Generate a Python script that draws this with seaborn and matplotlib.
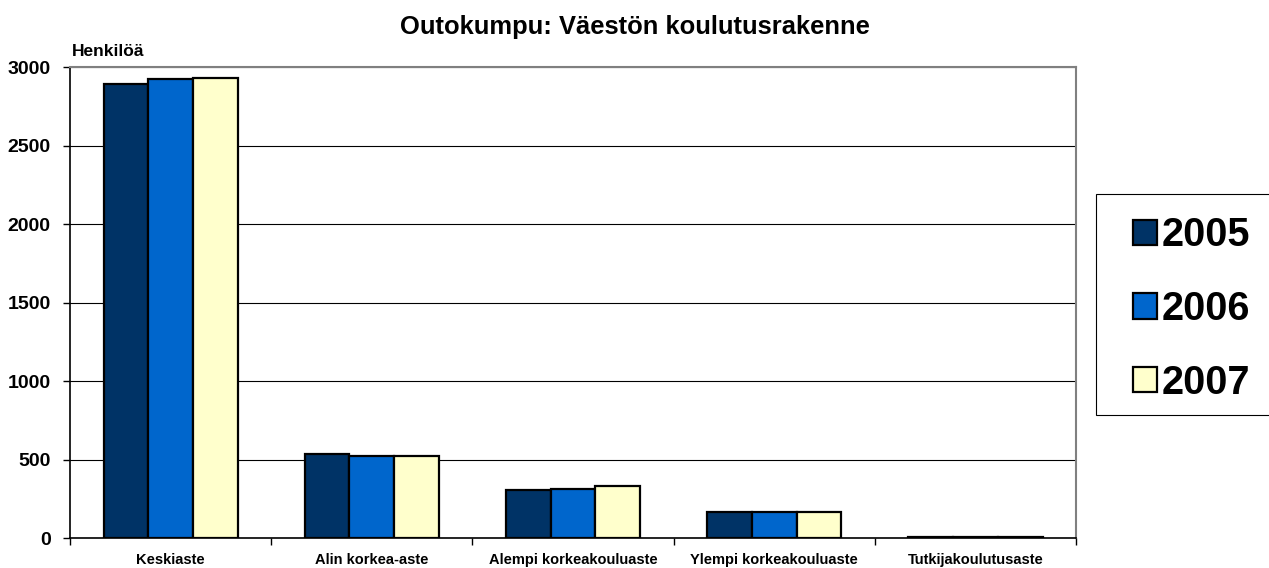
import pandas as pd
import matplotlib.pyplot as plt
import seaborn as sns
from matplotlib.patches import Rectangle

# Data
categories = ['Keskiaste', 'Alin korkea-aste', 'Alempi korkeakouluaste',
              'Ylempi korkeakouluaste', 'Tutkijakoulutusaste']
years = ['2005', '2006', '2007']
v2005 = [2892, 535, 306, 166, 6]
v2006 = [2924, 525, 309, 167, 6]
v2007 = [2930, 522, 331, 166, 6]
colors = ['#003366', '#0066CC', '#FFFFCC']

df = pd.DataFrame({
    'Koulutus': categories * 3,
    'Vuosi': [y for y in years for _ in categories],
    'Henkilöä': v2005 + v2006 + v2007,
})

sns.set_style('white')
plt.rcParams['font.family'] = ['Liberation Sans', 'DejaVu Sans']
plt.rcParams['text.color'] = 'black'
plt.rcParams['xtick.color'] = 'black'
plt.rcParams['ytick.color'] = 'black'

fig = plt.figure(figsize=(12.69, 5.68), dpi=100)
ax = fig.add_axes([0.0552, 0.0528, 0.7928, 0.8292])

sns.barplot(data=df, x='Koulutus', y='Henkilöä', hue='Vuosi', order=categories,
            hue_order=years, palette=colors, width=0.667, gap=0,
            edgecolor='black', linewidth=1.6, saturation=1, ax=ax)

ax.set_ylim(0, 3000)
ax.set_xlim(-0.5, len(categories) - 0.5)
ax.set_yticks(range(0, 3001, 500))
ax.yaxis.grid(True, color='black', linewidth=0.8)
ax.set_axisbelow(True)
ax.tick_params(axis='y', labelsize=14, left=True, length=5, width=1, color='black', pad=9)
for lab in ax.get_yticklabels():
    lab.set_fontweight('bold')

# category labels without marks, boundary ticks as minor ticks
ax.tick_params(axis='x', which='major', length=0, labelsize=10.5, pad=11)
for lab in ax.get_xticklabels():
    lab.set_fontweight('bold')
ax.set_xticks([i - 0.5 for i in range(len(categories) + 1)], minor=True)
ax.tick_params(axis='x', which='minor', bottom=True, length=5, width=1, color='black')

ax.set_xlabel('')
ax.set_ylabel('')
for side in ['left', 'bottom']:
    ax.spines[side].set_color('black')
    ax.spines[side].set_linewidth(1.2)
for side in ['top', 'right']:
    ax.spines[side].set_color('#808080')
    ax.spines[side].set_linewidth(1.5)

ax.text(0.002, 1.018, 'Henkilöä', transform=ax.transAxes, fontsize=12.5,
        fontweight='bold', ha='left', va='bottom')
fig.text(0.5, 1 - 27 / 568, 'Outokumpu: Väestön koulutusrakenne', ha='center',
         va='center', fontsize=18.4, fontweight='bold')

# legend box (runs off the right edge as in the original)
fig.patches.append(Rectangle((1096 / 1269, 1 - 415 / 568), 0.2, (415 - 194) / 568,
                             transform=fig.transFigure, facecolor='white',
                             edgecolor='black', linewidth=0.8))

handles, labels = ax.get_legend_handles_labels()
ax.get_legend().remove()
leg = fig.legend(handles, labels, loc='center left', bbox_to_anchor=(1133 / 1269, 1 - 309 / 568),
                 prop={'size': 28.5, 'weight': 'bold'}, frameon=False,
                 handlelength=0.6, handleheight=0.6, handletextpad=0.12,
                 labelspacing=0.9, borderpad=0, borderaxespad=0)

fig.savefig('out.png', dpi=100)
